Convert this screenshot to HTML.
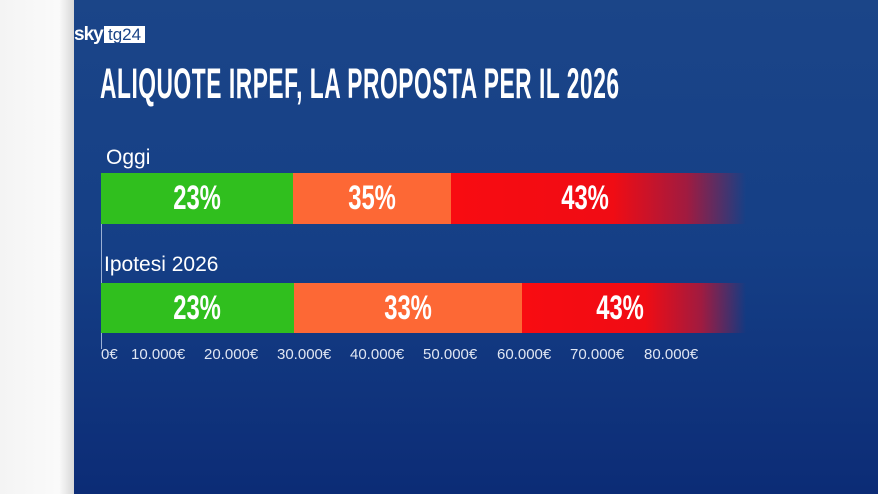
<!DOCTYPE html>
<html><head><meta charset="utf-8"><style>
*{margin:0;padding:0}
body{width:878px;height:494px;overflow:hidden;position:relative;font-family:"Liberation Sans",sans-serif;background:linear-gradient(#1b4588,#153f86 50%,#0c2c76)}
.left{position:absolute;left:0;top:0;width:74px;height:494px;background:linear-gradient(90deg,#f4f4f4,#fafafa 80%,#d8d8d8)}
.logo{position:absolute;left:74px;top:24px;color:#fff;font-weight:bold;font-size:19px;letter-spacing:-1px}
.tg{position:absolute;left:104px;top:26px;background:#fff;color:#1b4588;font-size:17px;padding:0 4px;height:17px;line-height:17px}
.title{position:absolute;left:100px;top:60px;color:#fff;font-weight:bold;font-size:43px;transform:scaleX(0.53);transform-origin:left top;white-space:nowrap;letter-spacing:1px}
.lab{position:absolute;color:#fff;font-size:21px}
.bar{position:absolute;height:51px}
.seg{position:absolute;top:0;height:100%;color:#fff;font-weight:bold;font-size:34px;display:flex;align-items:center;justify-content:center}
.seg span{display:inline-block;transform:scaleX(0.7)}
.g{background:#30bf1e}.o{background:#fd6835}
.r{background:linear-gradient(90deg,#f80c11 0%,#f00c14 55%,#a01b40 80%,rgba(27,69,136,0) 100%);justify-content:flex-start}
.axis{position:absolute;left:101px;top:173px;width:1px;height:176px;background:#9bb0d4}
.tick{position:absolute;top:346px;color:#dfe6f3;font-size:15px}
</style></head><body>
<div class="left"></div>
<div class="logo">sky</div><div class="tg">tg24</div>
<div class="title">ALIQUOTE IRPEF, LA PROPOSTA PER IL 2026</div>
<div class="lab" style="left:106px;top:146px">Oggi</div>
<div class="lab" style="left:104px;top:253px">Ipotesi 2026</div>
<div class="axis"></div>
<div class="bar" style="left:101px;top:173px;width:645px">
<div class="seg g" style="left:0;width:192px"><span>23%</span></div>
<div class="seg o" style="left:192px;width:158px"><span>35%</span></div>
<div class="seg r" style="left:350px;width:295px"><span style="margin-left:100px">43%</span></div>
</div>
<div class="bar" style="left:101px;top:283px;width:645px;height:50px">
<div class="seg g" style="left:0;width:193px"><span>23%</span></div>
<div class="seg o" style="left:193px;width:228px"><span>33%</span></div>
<div class="seg r" style="left:421px;width:224px"><span style="margin-left:64px">43%</span></div>
</div>
<div class="tick" style="left:101px">0€</div>
<div class="tick" style="left:131px">10.000€</div>
<div class="tick" style="left:204px">20.000€</div>
<div class="tick" style="left:277px">30.000€</div>
<div class="tick" style="left:350px">40.000€</div>
<div class="tick" style="left:423px">50.000€</div>
<div class="tick" style="left:497px">60.000€</div>
<div class="tick" style="left:570px">70.000€</div>
<div class="tick" style="left:644px">80.000€</div>
</body></html>
